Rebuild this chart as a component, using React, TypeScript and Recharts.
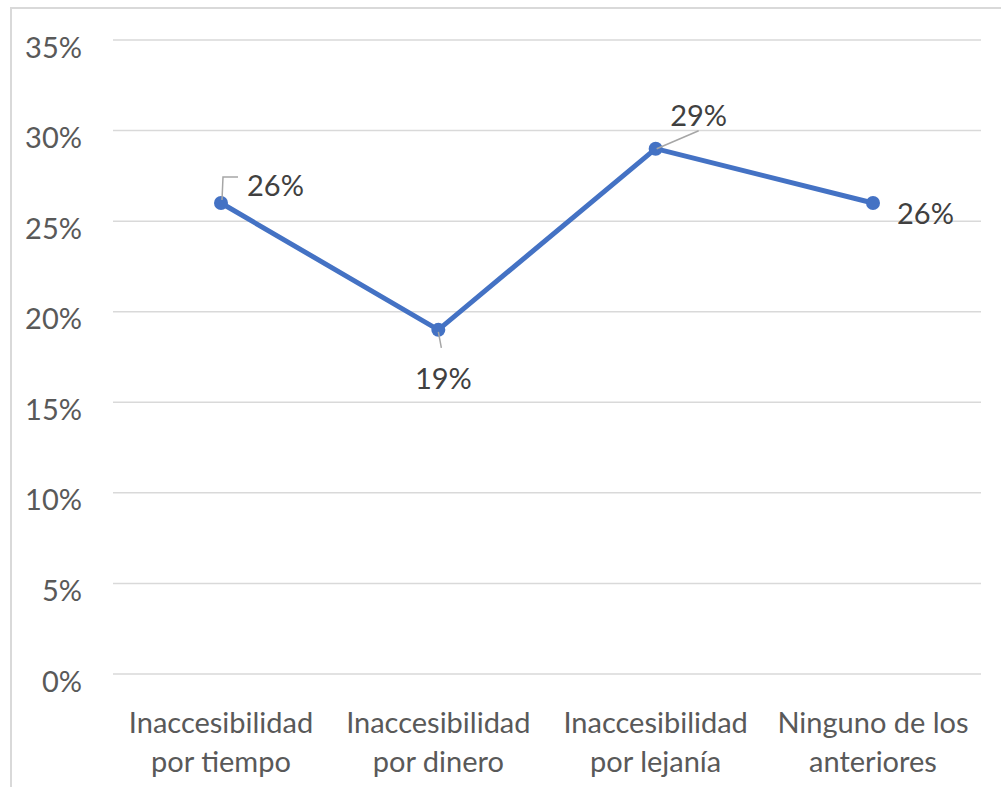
import React from 'react'
import { LineChart, Line, XAxis, YAxis, CartesianGrid, LabelList } from 'recharts'

const categories = [
  ['Inaccesibilidad', 'por tiempo'],
  ['Inaccesibilidad', 'por dinero'],
  ['Inaccesibilidad', 'por lejanía'],
  ['Ninguno de los', 'anteriores'],
]
const values = [0.26, 0.19, 0.29, 0.26]
const yTicks = [0, 0.05, 0.1, 0.15, 0.2, 0.25, 0.3, 0.35]

const data = categories.map((lines, i) => ({ name: lines.join(' '), value: values[i] }))

const FONT = 'Lato, sans-serif'
const BLUE = '#4472C4'
const pct = (v: number) => `${Math.round(v * 100)}%`

function YTick({ x, y, payload }: any) {
  return (
    <text x={x} y={y + 6} textAnchor="end" dominantBaseline="central" fill="#595959" fontSize={29} fontFamily={FONT}>
      {pct(payload.value)}
    </text>
  )
}

function XTick({ x, y, payload, index }: any) {
  const lines = categories[index] ?? [payload.value]
  return (
    <text x={x} y={y} textAnchor="middle" fill="#595959" fontSize={29} fontFamily={FONT}>
      {lines.map((l, i) => (
        <tspan key={i} x={x} dy={i === 0 ? 57 : 39}>
          {l}
        </tspan>
      ))}
    </text>
  )
}

// label placement per point, with the little leader lines
function PointLabel({ x, y, value, index }: any) {
  const txt = pct(value)
  const common = { fill: '#404040', fontSize: 29, fontFamily: FONT, dominantBaseline: 'central' as const }
  if (index === 0) {
    return (
      <g>
        <polyline points={`${x + 1},${y - 3} ${x + 2},${y - 26} ${x + 17},${y - 26}`} fill="none" stroke="#a6a6a6" strokeWidth={1.5} />
        <text x={x + 26} y={y - 19} textAnchor="start" {...common}>{txt}</text>
      </g>
    )
  }
  if (index === 1) {
    return (
      <g>
        <line x1={x} y1={y + 2} x2={x + 3} y2={y + 18} stroke="#a6a6a6" strokeWidth={1.5} />
        <text x={x + 5} y={y + 48} textAnchor="middle" {...common}>{txt}</text>
      </g>
    )
  }
  if (index === 2) {
    return (
      <g>
        <line x1={x + 1} y1={y} x2={x + 43} y2={y - 18} stroke="#a6a6a6" strokeWidth={1.5} />
        <text x={x + 43} y={y - 34} textAnchor="middle" {...common}>{txt}</text>
      </g>
    )
  }
  return (
    <text x={x + 24} y={y + 9} textAnchor="start" {...common}>{txt}</text>
  )
}

export default function App() {
  return (
    <div style={{ position: 'absolute', left: 0, top: 0, width: 1001, height: 787, overflow: 'hidden', background: '#fff' }}>
      <div
        style={{
          position: 'absolute',
          left: 10,
          top: 7,
          width: 1100,
          height: 900,
          border: '2px solid #d9d9d9',
        }}
      />
      <div style={{ position: 'absolute', left: 0, top: 0 }}>
        <LineChart width={1001} height={787} data={data} margin={{ top: 40, right: 20, left: 13, bottom: 33 }}>
          <CartesianGrid vertical={false} stroke="#d9d9d9" strokeWidth={1.5} />
          <XAxis
            dataKey="name"
            axisLine={false}
            tickLine={false}
            tickSize={0}
            height={80}
            interval={0}
            padding={{ left: 108, right: 108 }}
            tick={<XTick />}
          />
          <YAxis
            domain={[0, 0.35]}
            ticks={yTicks}
            axisLine={false}
            tickLine={false}
            tickSize={0}
            tickMargin={31}
            width={100}
            tick={<YTick />}
          />
          <Line
            type="linear"
            dataKey="value"
            stroke={BLUE}
            strokeWidth={5}
            dot={{ r: 7, fill: BLUE, stroke: BLUE, strokeWidth: 0 }}
            isAnimationActive={false}
          >
            <LabelList dataKey="value" content={<PointLabel />} />
          </Line>
        </LineChart>
      </div>
    </div>
  )
}
